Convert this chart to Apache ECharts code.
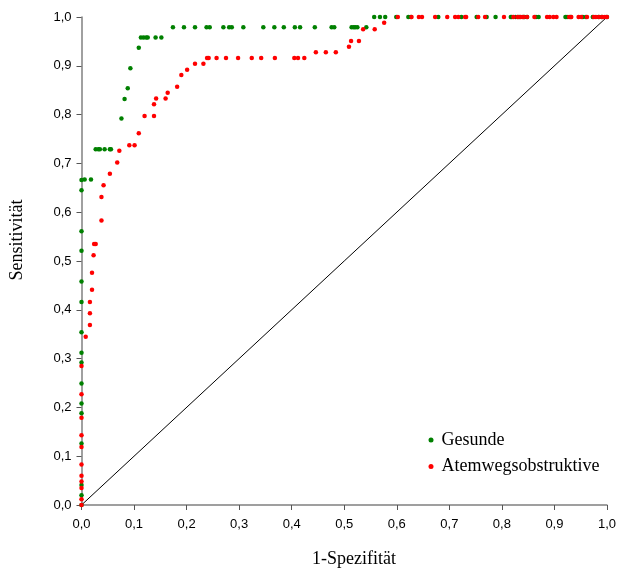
<!DOCTYPE html>
<html>
<head>
<meta charset="utf-8">
<script src="https://cdn.jsdelivr.net/npm/echarts@6/dist/echarts.min.js"></script>
<style>html,body{margin:0;padding:0;background:#fff;}#c{width:619px;height:572px;}</style>
</head>
<body>
<div id="c"></div>
<script>
var xTitle = '1-Spezifität';
var yTitle = 'Sensitivität';
var seriesNames = ['Gesunde', 'Atemwegsobstruktive'];

var gesundeX = [0,0,0,0,0,0,0,0,0,0,0,0,0,0,0,0,
  0.006,0.018,
  0.027,0.032,0.035,0.044,0.054,0.056,
  0.076,0.082,0.088,0.093,0.109,
  0.113,0.118,0.123,0.126,0.141,0.152,
  0.174,0.195,0.216,0.238,0.244,0.270,0.281,0.286,0.308,0.346,0.367,0.385,0.406,0.416,0.444,0.476,0.481,0.514,0.518,0.521,0.525,0.542,
  0.557,0.568,0.578,0.599,0.622,0.627,0.679,0.723,0.752,0.771,0.788,0.817,0.819,0.826,0.831,0.834,0.840,0.843,0.848,0.865,0.870,0.921,0.924,0.931,0.954,0.960,0.973,0.984,0.990,1.0];
var gesundeY = [0,0.020,0.041,0.126,0.188,0.208,0.249,0.292,0.312,0.354,0.416,0.458,0.521,0.561,0.645,0.666,
  0.667,0.667,
  0.729,0.729,0.729,0.729,0.729,0.729,
  0.792,0.832,0.854,0.895,0.937,
  0.958,0.958,0.958,0.958,0.958,0.958,
  0.979,0.979,0.979,0.979,0.979,0.979,0.979,0.979,0.979,0.979,0.979,0.979,0.979,0.979,0.979,0.979,0.979,0.979,0.979,0.979,0.979,0.979,
  1,1,1,1,1,1,1,1,1,1,1,1,1,1,1,1,1,1,1,1,1,1,1,1,1,1,1,1,1,1];

var atemX = [0,0,0,0,0,0,0,0,0,0,0,
  0.008,0.016,0.016,0.016,0.020,0.020,0.023,0.024,0.027,0.038,0.038,0.042,0.054,0.068,0.072,0.091,0.101,0.109,0.120,0.138,0.138,0.142,0.160,0.164,0.182,0.190,0.201,0.216,0.232,
  0.239,0.242,0.257,0.275,0.298,0.324,0.342,0.368,0.405,0.412,0.424,
  0.446,0.465,0.484,
  0.509,0.513,0.528,0.536,0.558,0.576,
  0.602,0.628,0.642,0.648,0.673,0.696,0.711,0.717,0.730,0.732,0.755,0.768,0.804,0.822,0.830,0.836,0.841,0.848,0.862,0.886,0.891,0.898,0.904,0.928,0.932,0.946,0.951,0.962,0.975,0.979,0.985,0.991,0.996,1.0];
var atemY = [0,0.012,0.035,0.048,0.060,0.083,0.119,0.143,0.179,0.227,0.285,
  0.345,0.369,0.393,0.416,0.441,0.476,0.512,0.535,0.535,0.583,0.631,0.655,0.679,0.702,0.726,0.737,0.737,0.762,0.797,0.797,0.821,0.833,0.833,0.845,0.857,0.881,0.892,0.904,0.904,
  0.916,0.916,0.916,0.916,0.916,0.916,0.916,0.916,0.916,0.916,0.916,
  0.928,0.928,0.928,
  0.939,0.951,0.951,0.975,0.975,0.988,
  1,1,1,1,1,1,1,1,1,1,1,1,1,1,1,1,1,1,1,1,1,1,1,1,1,1,1,1,1,1,1,1,1,1];

var diagX = [0, 1];
var diagY = [0, 1];

function zip(a, b) { return a.map(function (v, i) { return [v, b[i]]; }); }
function fmt(v) { return v.toFixed(1).replace('.', ','); }

var serif = 'Liberation Serif, Times New Roman, serif';
var chart = echarts.init(document.getElementById('c'));
var axisCommon = {
  type: 'value', min: 0, max: 1, interval: 0.1,
  splitLine: { show: false },
  axisLine: { show: true, lineStyle: { color: '#808080', width: 1.5 } },
  axisTick: { show: true, inside: false, length: 5, lineStyle: { color: '#555', width: 1 } },
  axisLabel: { formatter: fmt, fontFamily: 'Liberation Sans, Arial, sans-serif', fontSize: 13, color: '#000' }
};
chart.setOption({
  animation: false,
  backgroundColor: '#fff',
  grid: { left: 81.5, top: 17, right: 10.5, bottom: 67, containLabel: false },
  xAxis: Object.assign({}, axisCommon, { axisLabel: Object.assign({}, axisCommon.axisLabel, { margin: 13 }) }),
  yAxis: Object.assign({}, axisCommon, { axisLabel: Object.assign({}, axisCommon.axisLabel, { margin: 10 }) }),
  graphic: [
    { type: 'text', x: 354, y: 559, silent: true,
      style: { text: xTitle, fontFamily: serif, fontSize: 18, fill: '#000', textAlign: 'center', textVerticalAlign: 'middle' } },
    { type: 'text', x: 17.5, y: 240, rotation: Math.PI / 2, silent: true,
      style: { text: yTitle, fontFamily: serif, fontSize: 18, fill: '#000', textAlign: 'center', textVerticalAlign: 'middle' } }
  ],
  legend: {
    orient: 'vertical', left: 428.5, top: 431, padding: 0, itemGap: 8.5,
    icon: 'circle', itemWidth: 5, itemHeight: 5,
    data: seriesNames,
    textStyle: { fontFamily: serif, fontSize: 18, color: '#000', padding: [0, 0, 0, 3] }
  },
  series: [
    { type: 'line', data: zip(diagX, diagY), showSymbol: false, symbol: 'none', lineStyle: { color: '#000', width: 1 }, silent: true, z: 1 },
    { name: seriesNames[0], type: 'scatter', data: zip(gesundeX, gesundeY), symbol: 'circle', symbolSize: 4.5, itemStyle: { color: '#008000', opacity: 1 }, z: 3 },
    { name: seriesNames[1], type: 'scatter', data: zip(atemX, atemY), symbol: 'circle', symbolSize: 4.5, itemStyle: { color: '#ff0000', opacity: 1 }, z: 4 }
  ]
});
</script>
</body>
</html>
